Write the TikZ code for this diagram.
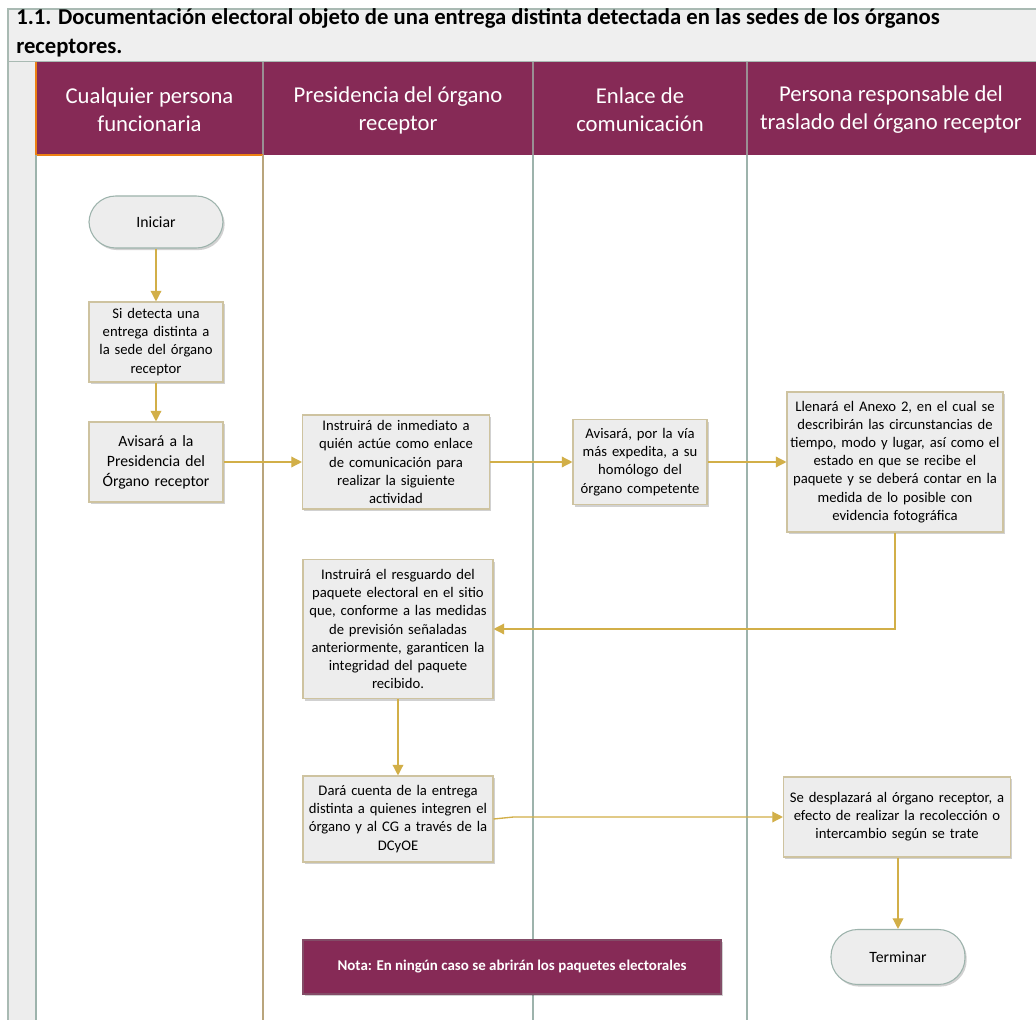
\documentclass[tikz,border=0pt]{standalone}
\usepackage{fontspec}
\setmainfont{Carlito}
\usetikzlibrary{arrows.meta,shadows}

\definecolor{plum}{HTML}{862A56}
\definecolor{boxfill}{HTML}{EDEDED}
\definecolor{boxline}{HTML}{CEC3A0}
\definecolor{termline}{HTML}{9DB3AC}
\definecolor{flow}{HTML}{D2AF48}
\definecolor{laneline}{HTML}{9DB3AC}
\definecolor{lanetan}{HTML}{B9A57C}
\definecolor{bandfill}{HTML}{EFEFEF}
\definecolor{bandline}{HTML}{A9BAB3}
\definecolor{headsep}{HTML}{9A8F93}

\tikzset{
  shade box/.style={drop shadow={shadow xshift=1.3pt, shadow yshift=-1.6pt, opacity=0.18, fill=black}},
  procbox/.style={draw=boxline, line width=0.8pt, fill=boxfill, shade box, align=center,
    inner sep=0pt, font=\fontsize{11}{13.6}\selectfont},
  termbox/.style={draw=termline, line width=0.8pt, fill=boxfill, rounded corners=20pt, shade box,
    align=center, inner sep=0pt, minimum width=100.5pt, font=\fontsize{11.8}{14}\selectfont},
  lanehead/.style={text=white, align=center, font=\fontsize{17}{21}\selectfont},
  flowline/.style={draw=flow, line width=1pt, -{Triangle[length=8pt,width=8pt]}},
  titletext/.style={anchor=base west, inner sep=0pt, font=\fontsize{17}{21}\bfseries\selectfont},
}

\begin{document}
\begin{tikzpicture}[x=0.75pt,y=-0.75pt]
\useasboundingbox (0,0) rectangle (1036,1020);

% title band and left strip
\fill[white] (0,0) rectangle (1036,1020);
\draw[bandline, fill=bandfill, line width=0.8pt] (8,9) rectangle (1040,62);
\fill[boxfill] (8,62) rectangle (36,1024);
\draw[bandline, line width=0.8pt] (8,62) -- (8,1024);
\node[titletext] (title1) at (16,25)
  {1.1. Documentación electoral objeto de una entrega distinta detectada en las sedes de los órganos};
\node[titletext] (title2) at (16,54) {receptores.};

% lane headers
\fill[plum] (36,62) rectangle (1040,155);
\draw[headsep, line width=0.8pt] (263,62) -- (263,155);
\draw[headsep, line width=0.8pt] (533,62) -- (533,155);
\draw[headsep, line width=0.8pt] (747,62) -- (747,155);
\draw[orange!70!brown, line width=0.8pt] (36,155) -- (263,155);
\draw[orange!70!brown, line width=0.8pt] (36,62) -- (36,155);

\node[lanehead] (h1) at (149.5,110) {Cualquier persona\\funcionaria};
\node[lanehead] (h2) at (398,110) {Presidencia del órgano\\receptor};
\node[lanehead] (h3) at (640,110) {Enlace de\\comunicación};
\node[lanehead] (h4) at (891,110) {Persona responsable del\\traslado del órgano receptor};

% lane dividers
\draw[laneline, line width=0.8pt] (36,155) -- (36,1024);
\draw[lanetan, line width=1pt] (263,155) -- (263,1024);
\draw[laneline, line width=1.2pt] (533,155) -- (533,1024);
\draw[laneline, line width=1.2pt] (747,155) -- (747,1024);

% flow steps
\node[termbox, minimum height=39pt] (ini) at (156,222) {Iniciar};
\node[procbox, minimum width=100.5pt, minimum height=60pt, text width=99pt] (s1) at (156,342)
  {Si detecta una\\entrega distinta a\\la sede del órgano\\receptor};
\node[procbox, minimum width=100.5pt, minimum height=60pt, text width=99pt, font=\fontsize{11.8}{15}\selectfont] (s2) at (156,462)
  {Avisará a la\\Presidencia del\\Órgano receptor};
\node[procbox, minimum width=140.25pt, minimum height=70.5pt, text width=138pt] (p1) at (396,462)
  {Instruirá de inmediato a\\quién actúe como enlace\\de comunicación para\\realizar la siguiente\\actividad};
\node[procbox, minimum width=100.5pt, minimum height=63.75pt, text width=99pt] (e1) at (640,462)
  {Avisará, por la vía\\más expedita, a su\\homólogo del\\órgano competente};
\node[procbox, minimum width=162pt, minimum height=105pt, text width=160pt] (r1) at (895,462)
  {Llenará el Anexo 2, en el cual se\\describirán las circunstancias de\\tiempo, modo y lugar, así como el\\estado en que se recibe el\\paquete y se deberá contar en la\\medida de lo posible con\\evidencia fotográfica};
\node[procbox, minimum width=142.5pt, minimum height=104.25pt, text width=141pt] (p2) at (398,629)
  {Instruirá el resguardo del\\paquete electoral en el sitio\\que, conforme a las medidas\\de previsión señaladas\\anteriormente, garanticen la\\integridad del paquete\\recibido.};
\node[procbox, minimum width=142.5pt, minimum height=64.5pt, text width=141pt] (p3) at (398,819)
  {Dará cuenta de la entrega\\distinta a quienes integren el\\órgano y al CG a través de la\\DCyOE};
\node[procbox, minimum width=170.25pt, minimum height=60pt, text width=169pt] (s3) at (897,817)
  {Se desplazará al órgano receptor, a\\efecto de realizar la recolección o\\intercambio según se trate};
\node[termbox, minimum height=41.25pt] (fin) at (898,957) {Terminar};

% note
\node[draw=plum!60!gray, line width=0.8pt, fill=plum, shade box, text=white, minimum width=313.5pt,
      minimum height=40.5pt, font=\fontsize{11.2}{13}\bfseries\selectfont] (nota) at (512,967)
  {Nota: En ningún caso se abrirán los paquetes electorales};

% connectors
\draw[flowline] (ini) -- (s1);
\draw[flowline] (s1) -- (s2);
\draw[flowline] (s2) -- (p1);
\draw[flowline] (p1) -- (e1);
\draw[flowline] (e1) -- (r1);
\draw[flowline] (r1.south) |- (p2.east);
\draw[flowline] (p2) -- (p3);
\draw[flowline] (p3.east) -- ++(20,-2) -- (s3.west);
\draw[flowline] (s3.south -| fin.north) -- (fin.north);
\end{tikzpicture}
\end{document}
